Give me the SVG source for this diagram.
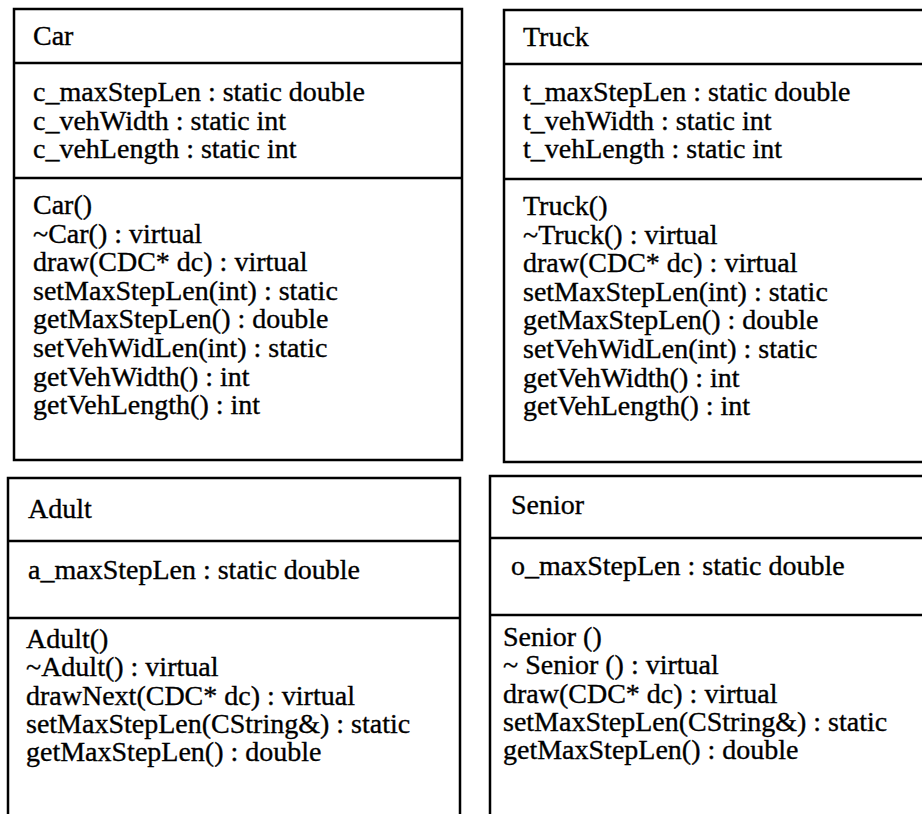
<svg xmlns="http://www.w3.org/2000/svg" width="922" height="814" viewBox="0 0 922 814">
<style>
.b{fill:none;stroke:#000;stroke-width:2.5;stroke-linecap:square}
text{font-family:"Liberation Serif","Times New Roman",serif;font-size:28px;fill:#000;stroke:#000;stroke-width:0.35}
</style>
<rect width="922" height="814" fill="#fff"/>
<g id="car">
<path class="b" d="M14 9H462V460H14Z M14 63H462 M14 178H462"/>
<text x="33" y="45">Car</text>
<text x="33" y="101">c_maxStepLen : static double</text>
<text x="33" y="129.5">c_vehWidth : static int</text>
<text x="33" y="158">c_vehLength : static int</text>
<text x="33" y="214">Car()</text>
<text x="33" y="242.6">~Car() : virtual</text>
<text x="33" y="271.2">draw(CDC* dc) : virtual</text>
<text x="33" y="299.8">setMaxStepLen(int) : static</text>
<text x="33" y="328.4">getMaxStepLen() : double</text>
<text x="33" y="357">setVehWidLen(int) : static</text>
<text x="33" y="385.6">getVehWidth() : int</text>
<text x="33" y="414.2">getVehLength() : int</text>
</g>
<g id="truck">
<path class="b" d="M930 10H504V462H930 M504 64H930 M504 179H930"/>
<text x="523" y="46">Truck</text>
<text x="523" y="101">t_maxStepLen : static double</text>
<text x="523" y="129.5">t_vehWidth : static int</text>
<text x="523" y="158">t_vehLength : static int</text>
<text x="523" y="215">Truck()</text>
<text x="523" y="243.6">~Truck() : virtual</text>
<text x="523" y="272.2">draw(CDC* dc) : virtual</text>
<text x="523" y="300.8">setMaxStepLen(int) : static</text>
<text x="523" y="329.4">getMaxStepLen() : double</text>
<text x="523" y="358">setVehWidLen(int) : static</text>
<text x="523" y="386.6">getVehWidth() : int</text>
<text x="523" y="415.2">getVehLength() : int</text>
</g>
<g id="adult">
<path class="b" d="M8 820V478H460V820 M8 541H460 M8 618H460"/>
<text x="28" y="518">Adult</text>
<text x="28" y="579">a_maxStepLen : static double</text>
<text x="26" y="648">Adult()</text>
<text x="26" y="676.3">~Adult() : virtual</text>
<text x="26" y="704.6">drawNext(CDC* dc) : virtual</text>
<text x="26" y="732.9">setMaxStepLen(CString&amp;) : static</text>
<text x="26" y="761.2">getMaxStepLen() : double</text>
</g>
<g id="senior">
<path class="b" d="M930 476H490V820 M490 538H930 M490 615H930"/>
<text x="511" y="514">Senior</text>
<text x="511" y="575">o_maxStepLen : static double</text>
<text x="503" y="646">Senior ()</text>
<text x="503" y="674.3">~ Senior () : virtual</text>
<text x="503" y="702.6">draw(CDC* dc) : virtual</text>
<text x="503" y="730.9">setMaxStepLen(CString&amp;) : static</text>
<text x="503" y="759.2">getMaxStepLen() : double</text>
</g>
<g id="connectors"></g>
</svg>
